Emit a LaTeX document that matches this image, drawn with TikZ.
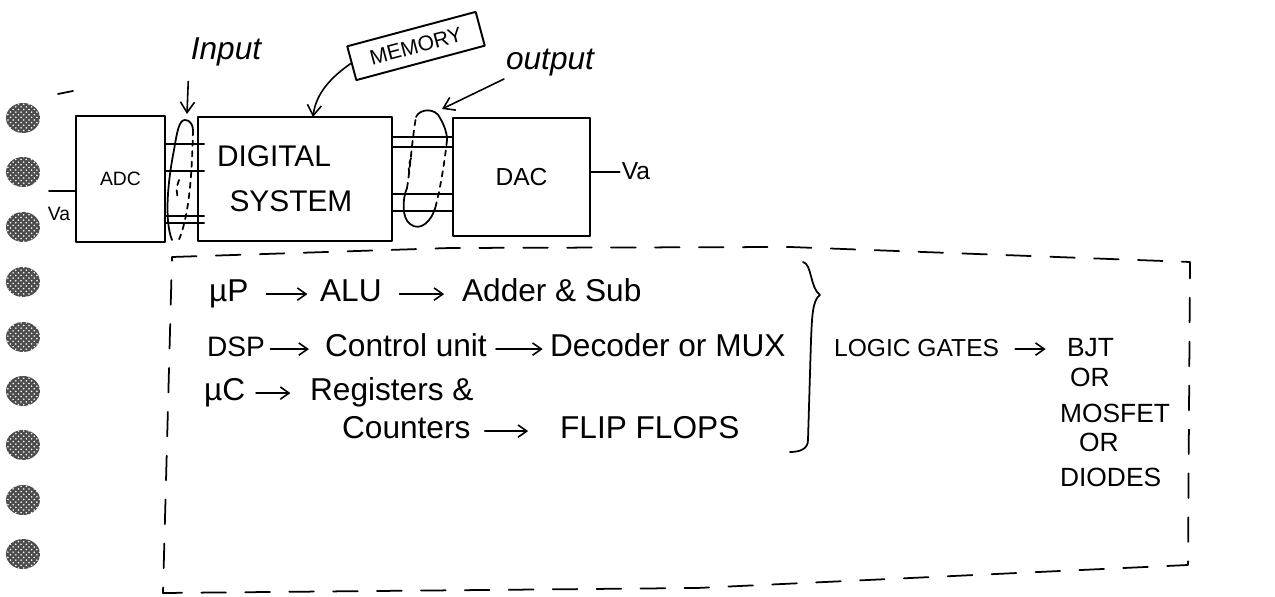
\documentclass[tikz,border=0pt]{standalone}
\usepackage{fontspec}
\setmainfont{Liberation Sans}
\usetikzlibrary{arrows.meta, positioning, patterns}

\tikzset{
  %% Hand drawn block
  blk/.style={
    rectangle, draw=black, line width=1.1pt,
    inner sep=2pt, text centered
  },
  %% Handwritten text
  hw/.style={
    font=\fontsize{#1}{#1}\selectfont,
    inner sep=1pt, text height=13pt, text depth=4pt
  },
  hw/.default=18,
  %% Plain pen stroke
  wire/.style={draw=black, line width=1pt},
  %% Arrows
  harr/.style={-{Straight Barb[length=6pt,width=8pt]},
               draw=black, line width=0.9pt},
  tarr/.style={-{Straight Barb[length=5pt,width=7pt]},
               draw=black, line width=0.9pt},
  %% Dashed frame
  dframe/.style={draw=black, line width=1pt,
                 dash pattern=on 14pt off 11pt},
  %% Binder hole
  hole/.style={fill=black!70},
}

\begin{document}
\begin{tikzpicture}[x=0.02cm, y=-0.02cm, line cap=round, line join=round]
  \useasboundingbox (0,0) rectangle (1275,597);

  %% Binder holes
  \foreach \hy in {118,172,227,282,337,391,445,500,554} {
    \fill[hole] (23,\hy) ellipse [x radius=3.4mm, y radius=3mm];
    \fill[pattern=crosshatch dots, pattern color=white]
      (23,\hy) ellipse [x radius=3.4mm, y radius=3mm];
  }
  \draw[wire] (58,94) -- (73,91);

  %% Blocks
  \node[blk, minimum width=1.78cm, minimum height=2.52cm,
        font=\fontsize{11}{13}\selectfont] (adc) at (120.5,179) {ADC};
  \node[blk, minimum width=3.88cm, minimum height=2.48cm,
        text width=3.12cm, inner xsep=0.38cm, align=left,
        font=\fontsize{17}{25.5}\selectfont] (dsys) at (295,179)
       {DIGITAL\\\hspace*{0.25cm}SYSTEM};
  \node[blk, minimum width=2.74cm, minimum height=2.36cm,
        font=\fontsize{14}{16}\selectfont] (dac) at (521.5,177) {DAC};
  \node[blk, rotate=15, minimum width=2.66cm, minimum height=0.7cm,
        font=\fontsize{12}{14}\selectfont] (mem) at (416,46) {MEMORY};

  %% Labels
  \node[hw, font=\itshape\fontsize{18}{20}\selectfont] (inlbl) at (226,52) {Input};
  \node[hw, font=\itshape\fontsize{18}{20}\selectfont] (outlbl) at (550,62) {output};
  \node[hw=11] (vain) at (59,213) {Va};
  \node[hw=14] (vaout) at (636,172) {Va};

  %% Analog ends
  \coordinate (vaend) at (49,191);
  \draw[wire] (vaend) -- (vaend -| adc.west);
  \draw[wire] (dac.east |- vaout.west) -- (vaout.west);

  %% Buses
  \foreach \ly in {144,171,216,223} {
    \coordinate (ly) at (0,\ly);
    \draw[wire, shorten >=-4pt] (adc.east |- ly) -- (dsys.west |- ly);
  }
  \foreach \ly in {137,147,194,211} {
    \coordinate (ly) at (0,\ly);
    \draw[wire] (dsys.east |- ly) -- (dac.west |- ly);
  }

  %% Bus loops
  \draw[wire] (172,240) .. controls (164,220) and (168,180) .. (174,150)
    .. controls (177,132) and (179,120) .. (185,120)
    .. controls (190,120) and (193,125) .. (193,130);
  \draw[wire, dashed] (193,130) .. controls (192,170) and (190,215) .. (178,242);
  \draw[wire, dash pattern=on 3pt off 3pt]
    (179,180) .. controls (176,187) and (176,194) .. (179,200);

  \draw[wire] (416,117) .. controls (420,108) and (436,108) .. (440,118)
    .. controls (444,125) and (447,132) .. (447,140);
  \draw[wire, dashed] (447,140) .. controls (445,160) and (440,190) .. (436,205);
  \draw[wire] (436,205) .. controls (432,222) and (420,232) .. (410,224)
    .. controls (402,218) and (402,200) .. (407,188);
  \draw[wire, dashed] (407,188) .. controls (410,170) and (412,140) .. (416,117);
  \draw[wire, dash pattern=on 3pt off 3pt]
    (411,158) .. controls (408,165) and (408,172) .. (411,178);

  %% Pointers
  \coordinate (inbus) at (187,114);
  \coordinate (memtip) at (313,117);
  \coordinate (outbus) at (442,109);
  \draw[harr, shorten <=7pt] (inlbl.south west) -- (inbus);
  \draw[harr] (mem.west) .. controls (333,76) and (316,92) .. (memtip);
  \draw[harr] (outlbl.south west) -- (outbus);

  %% Dashed frame
  \draw[dframe] (172,257) -- (450,248) -- (790,247) -- (1190,262)
    -- (1188,565) -- (697,588) -- (163,593) -- cycle;

  %% Chains
  \node[hw, anchor=base west] (up)     at (207,302) {µP};
  \node[hw, anchor=base west] (alu)    at (318,302) {ALU};
  \node[hw, anchor=base west] (addsub) at (460,302) {Adder \& Sub};
  \node[hw=16, anchor=base west] (dsp) at (205,357) {DSP};
  \node[hw, anchor=base west] (cu)     at (323,357) {Control unit};
  \node[hw, anchor=base west] (dec)    at (548,357) {Decoder or MUX};
  \node[hw, anchor=base west] (uc)     at (202,401) {µC};
  \node[hw, anchor=base west] (reg)    at (308,401) {Registers \&};
  \node[hw, anchor=base west] (cnt)    at (340,439) {Counters};
  \node[hw, anchor=base west] (ff)     at (558,439) {FLIP FLOPS};

  \draw[tarr, shorten <=9pt, shorten >=6pt]   (up)  -- (alu);
  \draw[tarr, shorten <=9pt, shorten >=9pt]   (alu) -- (addsub);
  \draw[tarr, shorten <=2pt, shorten >=8pt]   (dsp) -- (cu);
  \draw[tarr, shorten <=4pt, shorten >=3pt]   (cu)  -- (dec);
  \draw[tarr, shorten <=5pt, shorten >=10pt]  (uc)  -- (reg);
  \draw[tarr, shorten <=7pt, shorten >=17pt]  (cnt) -- (ff);

  %% Brace
  \draw[wire] (803,262) .. controls (812,264) and (810,288) .. (820,295)
    .. controls (812,300) and (812,320) .. (811,340) -- (808,440)
    .. controls (808,449) and (800,452) .. (790,452);

  %% Gates and devices
  \node[hw=14, anchor=base west] (lg)  at (832,357) {LOGIC GATES};
  \node[hw=15, anchor=base west] (bjt) at (1065,357) {BJT};
  \node[hw=15, anchor=base west] (or1) at (1068,387) {OR};
  \node[hw=15, anchor=base west] (mos) at (1058,423) {MOSFET};
  \node[hw=15, anchor=base west] (or2) at (1077,452) {OR};
  \node[hw=15, anchor=base west] (dio) at (1058,487) {DIODES};
  \draw[tarr, shorten <=8pt, shorten >=11pt] (lg) -- (bjt);

\end{tikzpicture}
\end{document}
